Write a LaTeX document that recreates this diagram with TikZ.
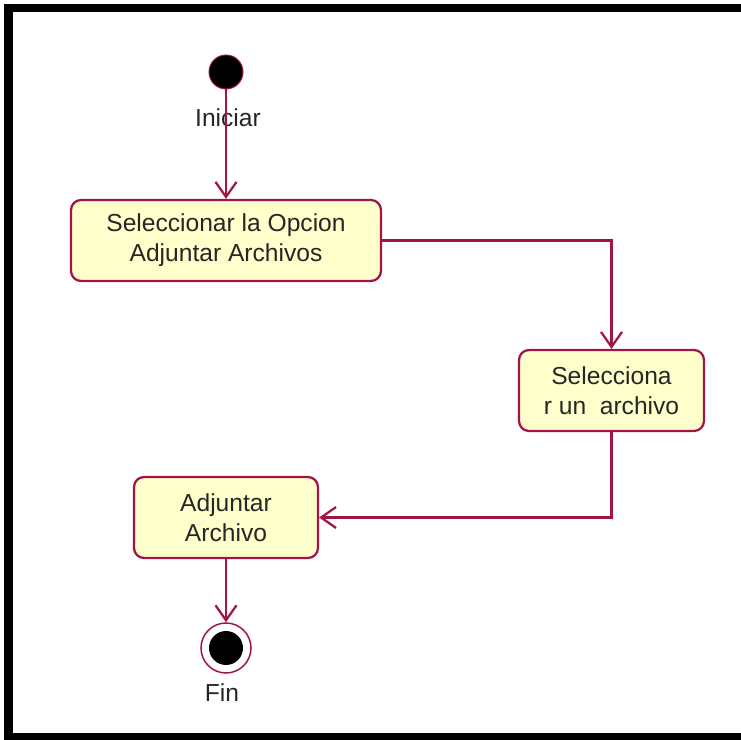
\documentclass[tikz,border=0pt]{standalone}
\usepackage{fontspec}
\setmainfont{Liberation Sans}
\usetikzlibrary{arrows.meta,positioning}

\definecolor{roseline}{RGB}{160,20,70}
\definecolor{rosefill}{RGB}{255,255,204}

\tikzset{
	activity/.style={draw=roseline, fill=rosefill, line width=0.045cm, rounded corners=0.2cm,
		align=center, minimum height=1.62cm, inner sep=0pt, text=black!85,
		font=\fontsize{14}{17}\selectfont},
	flow/.style={draw=roseline, line width=0.045cm,
		-{Straight Barb[length=0.3cm,width=0.42cm]}},
	statelabel/.style={text=black!85, font=\fontsize{14}{17}\selectfont},
}

\begin{document}
\begin{tikzpicture}[x=0.02cm, y=-0.02cm]
			\useasboundingbox (0,0) rectangle (741,740);
			% frame (open on the right)
			\draw[line width=0.17cm] (741,8) -- (8.5,8) -- (8.5,737) -- (741,737);
			% initial state
			\node[circle, fill=black, draw=roseline, line width=0.02cm, minimum size=0.68cm, inner sep=0pt] (start) at (226,72) {};
			\node[statelabel] (startlabel) at (228,118) {Iniciar};
			% activities
			\node[activity, minimum width=6.2cm] (opcion) at (226,240.5) {Seleccionar la Opcion\\Adjuntar Archivos};
			\node[activity, minimum width=3.7cm] (archivo) at (611.5,390.5) {Selecciona\\r un\ \ archivo};
			\node[activity, minimum width=3.68cm] (adjuntar) at (226,517.5) {Adjuntar\\Archivo};
			% final state
			\node[circle, fill=white, draw=roseline, line width=0.03cm, minimum size=1cm, inner sep=0pt] (fin) at (226,648) {};
			\node[circle, fill=black, minimum size=0.68cm, inner sep=0pt] (findot) at (fin) {};
			\node[statelabel] (finlabel) at (222,693) {Fin};
			% transitions
			\draw[flow] (start) -- (opcion);
			\draw[flow] (opcion.east) -| (archivo.north);
			\draw[flow] (archivo.south) |- (adjuntar.east);
			\draw[flow] (adjuntar) -- (fin);
		\end{tikzpicture}
\end{document}
